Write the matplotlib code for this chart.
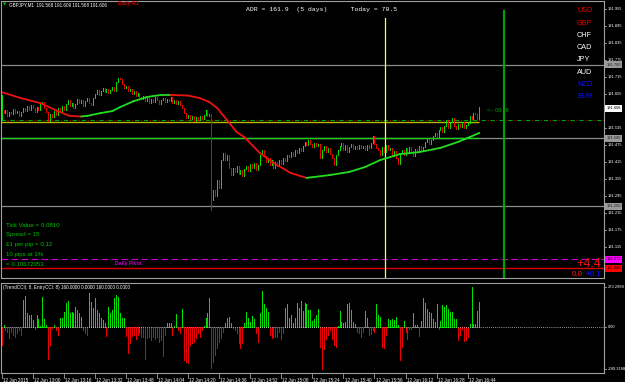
import matplotlib
matplotlib.use('Agg')
import matplotlib.pyplot as plt
from matplotlib.transforms import blended_transform_factory

W, H = 625, 382

# ---- data --------------------------------------------------------------
first_open = 191.572
closes = [
    191.600, 191.589, 191.600, 191.579, 191.593, 191.586, 191.603, 191.589, 191.596, 191.579, 191.593, 191.607, 191.596,
    191.614, 191.600, 191.617, 191.607, 191.593, 191.610, 191.600, 191.621, 191.628, 191.607, 191.593, 191.561, 191.586,
    191.575, 191.596, 191.582, 191.607, 191.593, 191.614, 191.600, 191.621, 191.635, 191.614, 191.624, 191.607,
    191.621, 191.639, 191.624, 191.635, 191.614, 191.631, 191.642, 191.624, 191.617,
    191.642, 191.656, 191.671, 191.653, 191.667, 191.678,
    191.663, 191.674, 191.660, 191.671, 191.681, 191.667,
    191.699, 191.713, 191.709, 191.692,
    191.678, 191.685, 191.667, 191.674, 191.656, 191.667, 191.649, 191.660, 191.646,
    191.639, 191.649, 191.631, 191.642, 191.624, 191.639, 191.628, 191.646, 191.635, 191.621,
    191.635, 191.642, 191.628, 191.639, 191.631, 191.646, 191.624, 191.635, 191.621, 191.631, 191.617,
    191.607, 191.589, 191.572,
    191.582, 191.568, 191.579, 191.561, 191.575, 191.565, 191.579, 191.568, 191.582, 191.600, 191.579, 191.586,
    191.282, 191.317, 191.296, 191.353, 191.324, 191.423,
    191.448, 191.423, 191.441, 191.395, 191.370,
    191.395, 191.381, 191.402, 191.374, 191.388, 191.367, 191.391,
    191.402, 191.384, 191.409, 191.395, 191.413, 191.388, 191.406,
    191.441, 191.459, 191.437,
    191.416, 191.430, 191.406, 191.423, 191.395, 191.416, 191.402, 191.423, 191.409,
    191.430, 191.420, 191.441, 191.434, 191.451, 191.437, 191.459, 191.448, 191.466, 191.455,
    191.473, 191.487, 191.476, 191.494, 191.480, 191.469, 191.483, 191.473, 191.480,
    191.430, 191.459, 191.473, 191.451, 191.466, 191.444, 191.430, 191.406, 191.441, 191.459,
    191.473, 191.483, 191.459, 191.476, 191.451, 191.469, 191.480, 191.462,
    191.473, 191.462, 191.476, 191.466, 191.473, 191.459, 191.476, 191.466, 191.483, 191.508, 191.480, 191.466,
    191.459, 191.441, 191.469, 191.451, 191.476, 191.459, 191.466, 191.437, 191.455, 191.430, 191.409, 191.448,
    191.459, 191.441, 191.466, 191.448, 191.469, 191.455, 191.437, 191.462, 191.451, 191.473, 191.459, 191.469,
    191.487, 191.497, 191.480, 191.494,
    191.508, 191.519, 191.504, 191.529, 191.540, 191.522,
    191.543, 191.565, 191.536, 191.557, 191.572, 191.543,
    191.533, 191.550, 191.540, 191.557, 191.536, 191.547, 191.554,
    191.579, 191.568, 191.589, 191.586, 191.568, 191.606,
]
wick_bars = [0, 108, 246]
wick_highs = [191.653, 191.586, 191.609]
wick_lows = [191.565, 191.247, 191.568]

ma_bars = [0, 10, 20, 30, 35, 41, 44, 51, 57, 61, 68, 75, 82, 87, 96, 102, 107, 111, 116,
           121, 125, 133, 140, 149, 157, 169, 179, 187, 195, 205, 215, 226, 235, 241, 246]
ma_vals = [191.663, 191.642, 191.624, 191.593, 191.579, 191.577, 191.579, 191.589, 191.596,
           191.610, 191.631, 191.646, 191.653, 191.653, 191.651, 191.642, 191.628, 191.607,
           191.565, 191.522, 191.504, 191.448, 191.413, 191.377, 191.360, 191.370, 191.381,
           191.398, 191.423, 191.444, 191.451, 191.466, 191.487, 191.504, 191.519]

cci_vals = [
    -123, 11, -21, -32, -78, -32, -55, -71, -43, -21, -55,
    185, 212, 93, 82, 82, 48, -16, 82, 52, 5, 203, 52, 11,
    -219, -125, -10, 14, -21, -55,
    59, 59, 105, 162, 178, 93, 105, 93, 139, 116, 93, 71,
    -21, -43, -55,
    235, 173, 128, 196, 116, 93, 59, 48, 25,
    -62,
    139, 93, 116, 196, 219, 207, 93, 59, 59,
    -62, -180, -112, -62, -55, -84, -55, -43, -66, -70, -219, -78, -66, -89, -66, -84, -71, -100, -89, -198, -55,
    30, 25, 30,
    -55,
    5, 87,
    -21, -43,
    121,
    -226, -237, -248, -123, -112, -100, -78, -43, -66, -21,
    5, 59, 93, 196,
    -283, -237, -192, -146, -100, -78, -32,
    30, 59, 71, 25,
    -9, -21, -43, -112, -146, -112,
    25, 105, 59, 36, 75, 52,
    -39, -100,
    98, 246, 157, 128, 105,
    -55, -78, -66, -66, -66, -32, -84, -39,
    128, 157, 59, 82, 25, 60, 162, 128,
    180, 109, 166, 155, 116, 116, 43, 55, 80, 121,
    -135, -289.3188, -153, -82, -55, -21, -84, -123, -135,
    5, 109, 36, 25, 36, 155, 166, 116, 36, 20,
    -32, -43, -66, -32,
    109, 64,
    -55, -48, -21, -32,
    155, 82, 71,
    -135, -146, -55,
    55, 48, 52, 48, 66, 14,
    -226, -135,
    43,
    -32, -84, -16, -11,
    98, 14, 14,
    -60,
    43, 201, 166, 120, 105, 93, 52, 36, 157,
    -11,
    43, 148, 135, 148, 121, 105, 103, 52, 52,
    -89, -55, -16, -96, -89, -66,
    20, 273.2999, 20, 20, 109, 171,
]

time_labels = ['12 Jun 2015', '12 Jun 13:00', '12 Jun 13:16', '12 Jun 13:32', '12 Jun 13:48',
               '12 Jun 14:04', '12 Jun 14:20', '12 Jun 14:36', '12 Jun 14:52', '12 Jun 15:08',
               '12 Jun 15:24', '12 Jun 15:40', '12 Jun 15:56', '12 Jun 16:12', '12 Jun 16:28',
               '12 Jun 16:44']
label_step = 16

price_ticks = [191.955, 191.895, 191.835, 191.775, 191.715, 191.655, 191.595, 191.535,
               191.475, 191.415, 191.355, 191.295, 191.235, 191.175, 191.115]
grey_levels = [191.760, 191.500, 191.260]
green_level = 191.500
yellow_level = 191.557
dashdot_level = 191.566
pivot_level = 191.073
red_level = 191.040
vline_yellow = 197.6
vline_green = 258.5

currencies = ['USD', 'GBP', 'CHF', 'CAD', 'JPY', 'AUD', 'NZD', 'EUR']
currency_colors = ['#ee0000', '#ee0000', 'white', 'white', 'white', 'white', '#1010ff', '#1010ff']
info_lines = ['Tick Value = 0.0810', 'Spread = 15', '\u00a31 per pip = 0.12',
              '10 pips at 1%', '= 0.10672053']

# ---- figure -----------------------------------------------------------
GREEN = '#00e000'
RED = '#ee0000'
GRID = '#a0a0a0'
SANS = ['Liberation Sans', 'DejaVu Sans']

fig = plt.figure(figsize=(W / 100, H / 100), dpi=100, facecolor='black')


def box(x0, y0, x1, y1):
    return [x0 / W, 1 - y1 / H, (x1 - x0) / W, (y1 - y0) / H]


def ftext(x, y, s, **kw):
    kw.setdefault('family', SANS)
    fig.text(x / W, 1 - y / H, s, va='center', **kw)


ax = fig.add_axes(box(1, 1, 604, 278), facecolor='black')
ax2 = fig.add_axes(box(1, 283, 604, 373), facecolor='black')

xlim = (-0.31, 310.2)
for a in (ax, ax2):
    a.set_xlim(*xlim)
    a.set_xticks([])
    a.set_yticks([])
    for s in a.spines.values():
        s.set_color(GRID)
        s.set_linewidth(0.8)
ax.set_ylim(191.0063, 191.985)
ax2.set_ylim(-314.6, 301.0)

# level lines
for lv in grey_levels:
    ax.axhline(lv, color='#8a8a8a', lw=0.9)
n = len(closes)
ax.hlines(green_level, xlim[0], n - 1, color='#20d020', lw=1.0)
ax.hlines(yellow_level, xlim[0], n - 1, color='#b8b800', lw=1.0)
ax.axhline(dashdot_level, color='#00a000', lw=0.8, linestyle=(0, (4, 4)))
ax.axhline(dashdot_level, color='#d00000', lw=0.8, linestyle=(2.5, (1, 7)))
ax.axhline(pivot_level, color='#cc00cc', lw=0.8, linestyle=(0, (6, 3)))
ax.axhline(red_level, color='#dd0000', lw=1.0)
ax.axvline(vline_yellow, ymin=0.0, ymax=0.94, color='#ffff40', lw=0.9)
ax.axvline(vline_green, ymin=0.0, ymax=0.965, color='#00a000', lw=1.6)

# candles
opens = [first_open] + closes[:-1]
lows = [min(o, c) for o, c in zip(opens, closes)]
highs = [max(o, c) for o, c in zip(opens, closes)]
for b, hi, lo in zip(wick_bars, wick_highs, wick_lows):
    highs[b] = max(highs[b], hi)
    lows[b] = min(lows[b], lo)
cols = [GREEN if c >= o else RED for o, c in zip(opens, closes)]
lc = ax.vlines(range(n), lows, highs, colors=cols, lw=0.7, antialiased=False)
lc.set_capstyle('projecting')

# colored moving average
for i in range(len(ma_bars) - 1):
    col = '#22dd22' if ma_vals[i + 1] >= ma_vals[i] else '#ee1111'
    ax.plot(ma_bars[i:i + 2], ma_vals[i:i + 2], color=col, lw=1.3, solid_capstyle='round')

# right price scale
tr = blended_transform_factory(ax.transAxes, ax.transData)
for p in price_ticks:
    ax.text(1.006, p, f'{p:.3f}', transform=tr, color='white', fontsize=2.9,
            va='center', ha='left', family=SANS, clip_on=False)
    ax.plot([1.0, 1.004], [p, p], transform=tr, color=GRID, lw=0.6, clip_on=False)


def price_box(p, txt, fc, tc):
    ax.text(1.004, p, txt, transform=tr, color=tc, fontsize=2.9, va='center', ha='left',
            family=SANS, clip_on=False,
            bbox=dict(boxstyle='square,pad=0.35', fc=fc, ec='none'))


for lv in grey_levels:
    price_box(lv, f'{lv:.3f}', '#9a9a9a', '#202020')
price_box(closes[-1], f'{closes[-1]:.3f}', 'white', 'black')
price_box(pivot_level, f'{pivot_level:.3f}', '#ff00ff', 'black')
price_box(red_level, f'{red_level:.3f}', '#ff0000', 'black')

# indicator histogram
ccols = ['#00e000' if v >= 0 else '#ee0000' for v in cci_vals]
ax2.vlines(range(len(cci_vals)), 0, cci_vals, colors=ccols, lw=0.7, antialiased=False)
ax2.axhline(0, color='#c8c8c8', lw=0.6, linestyle=(0, (1, 1.5)))
tr2 = blended_transform_factory(ax2.transAxes, ax2.transData)
for v, s in [(max(cci_vals), f'{max(cci_vals):.4f}'), (0, '0.00'),
             (min(cci_vals), f'{min(cci_vals):.4f}')]:
    ax2.text(1.006, v, s, transform=tr2, color='white', fontsize=2.9, va='center',
             ha='left', family=SANS, clip_on=False)
    ax2.plot([1.0, 1.004], [v, v], transform=tr2, color=GRID, lw=0.6, clip_on=False)

# time axis
trx = blended_transform_factory(ax2.transData, ax2.transAxes)
for k, lab in enumerate(time_labels):
    xb = k * label_step
    ax2.plot([xb, xb], [0, -0.05], transform=trx, color=GRID, lw=0.6, clip_on=False)
    ax2.text(xb + 0.6, -0.05, lab, transform=trx, color='white', fontsize=3.3,
             va='top', ha='left', family=SANS, clip_on=False)

# texts on the chart
ftext(3, 5, '\u25bc', color='#00c000', fontsize=3, family=['DejaVu Sans'])
ftext(9, 5, 'GBPJPY,M1  191.568 191.609 191.568 191.606', color='white', fontsize=3.3)
ftext(118, 4, 'Daily R1', color='#dd0000', fontsize=3.8, fontweight='bold')
ftext(246, 10, 'ADR = 161.9  (5 days)      Today = 70.5', color='white', fontsize=4.6,
      family=['Liberation Mono', 'DejaVu Sans Mono'])
for k, (c, cc) in enumerate(zip(currencies, currency_colors)):
    ftext(577, 11 + k * 12.2, c, color=cc, fontsize=5.2)
for k, s in enumerate(info_lines):
    ftext(6, 225 + k * 9.8, s, color='#00c000', fontsize=4.4)
ftext(115, 263, 'Daily Pivot', color='#cc00cc', fontsize=3.7, fontweight='bold')
ftext(487, 111, '<-- 00:18', color='#00b000', fontsize=3.8)
ftext(601, 264, '+4.4', color='#ff1010', fontsize=9, ha='right')
ftext(601, 274.5, '+0.1', color='#1010ff', fontsize=5.8, ha='right')
ftext(583, 274.5, '0.0', color='#ff1010', fontsize=5.8, ha='right')
ftext(3, 287.5, '(TrendCCI(: 8, EntryCCI: 8) 160.0000 0.0000 160.0000 0.0000',
      color='white', fontsize=3.3)

fig.savefig('out.png', dpi=100, facecolor='black')
